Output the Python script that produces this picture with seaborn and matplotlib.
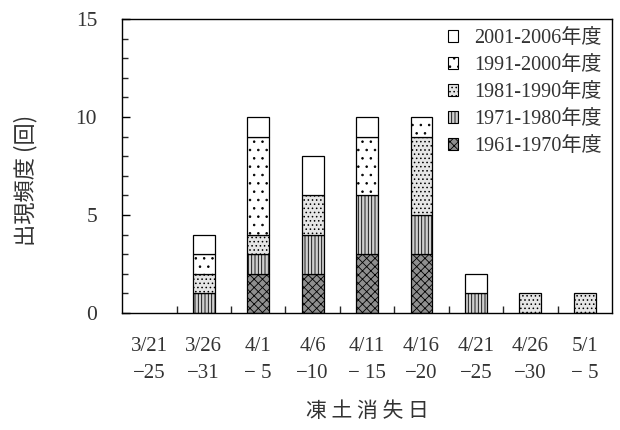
import numpy as np
import pandas as pd
import matplotlib
matplotlib.use("Agg")
import matplotlib.pyplot as plt
from matplotlib.patches import Patch
from matplotlib.ticker import MultipleLocator, FixedLocator
import seaborn as sns

# 凍土消失日の区分
periods = ["3/21\n−25", "3/26\n−31", "4/1\n− 5", "4/6\n−10", "4/11\n− 15",
           "4/16\n−20", "4/21\n−25", "4/26\n−30", "5/1\n− 5"]

# 年代別の出現頻度（回）
y1961 = [0, 0, 2, 2, 3, 3, 0, 0, 0]
y1971 = [0, 1, 1, 2, 3, 2, 1, 0, 0]
y1981 = [0, 1, 1, 2, 0, 4, 0, 1, 1]
y1991 = [0, 1, 5, 0, 3, 1, 0, 0, 0]
y2001 = [0, 1, 1, 2, 1, 0, 1, 0, 0]

decades = ["1961-1970年度", "1971-1980年度", "1981-1990年度",
           "1991-2000年度", "2001-2006年度"]
series = [y1961, y1971, y1981, y1991, y2001]

faces = ["#8f8f8f", "#cfcfcf", "#e6e6e6", "#ffffff", "#ffffff"]
hatches = ["xxxx", "|||||", "....", ". .", None]

sns.set_style("white")
plt.rcParams["font.family"] = ["Liberation Serif", "Noto Sans CJK JP"]
plt.rcParams["hatch.linewidth"] = 0.6

fig = plt.figure(figsize=(6.2, 4.3), dpi=100)
ax = fig.add_axes([0.197, 0.272, 0.790, 0.684])

bottom = np.zeros(len(periods))
for name, vals, fc, h in zip(decades, series, faces, hatches):
    df = pd.DataFrame({"period": periods, "count": vals})
    sns.barplot(data=df, x="period", y="count", order=periods, ax=ax,
                color=fc, saturation=1, width=0.4, bottom=bottom,
                edgecolor="black", linewidth=0.9, hatch=h, errorbar=None)
    bottom = bottom + np.array(vals)

# empty segments should leave no outline
for p in ax.patches:
    if p.get_height() == 0:
        p.set_linewidth(0)

ax.set_xlim(-0.5, len(periods) - 0.5)
ax.set_ylim(0, 15)
ax.yaxis.set_major_locator(MultipleLocator(5))
ax.yaxis.set_minor_locator(MultipleLocator(1))
ax.xaxis.set_minor_locator(FixedLocator(np.arange(0.5, len(periods) - 1, 1.0)))

for s in ax.spines.values():
    s.set_visible(True)
    s.set_color("black")
    s.set_linewidth(1.0)

ax.tick_params(axis="y", which="major", direction="in", length=6, width=1,
               left=True, labelsize=15.5, pad=18, colors="black",
               labelcolor="#333333")
ax.tick_params(axis="y", which="minor", direction="in", length=4, width=1,
               left=True)
ax.tick_params(axis="x", which="major", length=0, labelsize=15, pad=17,
               labelcolor="#333333")
ax.tick_params(axis="x", which="minor", direction="in", length=5, width=1,
               bottom=True)
for lbl in ax.get_xticklabels():
    lbl.set_linespacing(1.6)

ax.set_xlabel("凍 土 消 失 日", fontsize=15, family="Noto Sans CJK JP",
              labelpad=12, color="#333333")
ax.set_ylabel("出現頻度 (回)", fontsize=16, family="Noto Sans CJK JP",
              color="#333333")
ax.yaxis.set_label_coords(-0.172, 0.45)

handles = [Patch(facecolor=fc, edgecolor="black", hatch=h, linewidth=0.8)
           for fc, h in zip(faces, hatches)]
leg = ax.legend(handles[::-1], decades[::-1], loc="upper right",
                frameon=False, fontsize=14.5, handlelength=0.5, handleheight=0.5,
                handletextpad=0.8, labelspacing=0.4,
                bbox_to_anchor=(1.0, 1.0), borderaxespad=0.1)
for t in leg.get_texts():
    t.set_color("#333333")

fig.savefig("out.png", dpi=100)
